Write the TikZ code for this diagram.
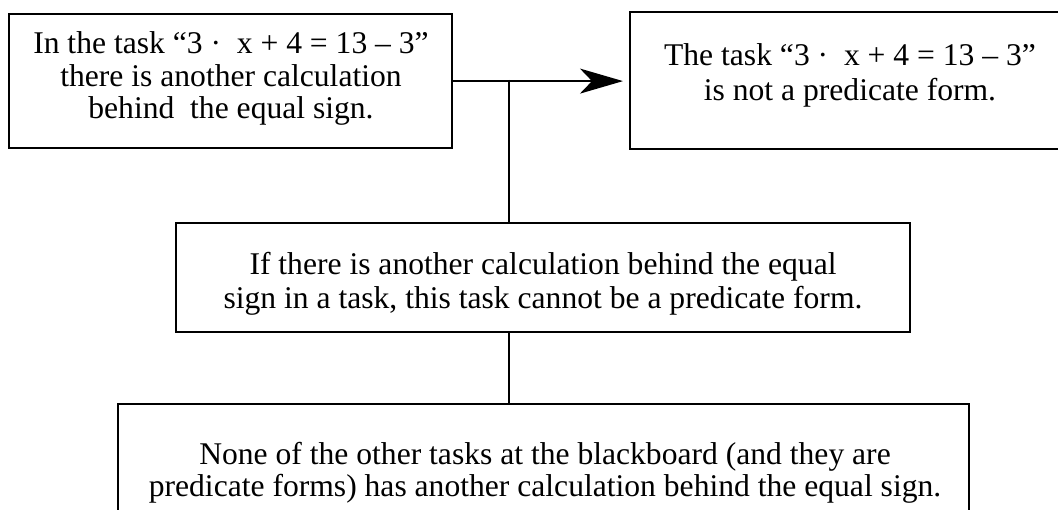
\documentclass[tikz,border=0pt]{standalone}
\usepackage{fontspec}
\setmainfont{Liberation Serif}
\usetikzlibrary{arrows.meta,calc}
\begin{document}
\begin{tikzpicture}[x=1pt,y=-1pt,
  box/.style={draw, line width=2.2pt, inner sep=0pt, anchor=north west},
  txt/.style={align=center, inner sep=0pt, anchor=center},
  conn/.style={line width=2pt}]
\useasboundingbox (0,0) rectangle (1058,510);
\clip (0,0) rectangle (1058,510);
\node[box, minimum width=443pt, minimum height=134pt] (A) at (8,13) {};
\node[box, minimum width=446pt, minimum height=137pt] (R) at (629,11) {};
\node[box, minimum width=734pt, minimum height=109pt] (M) at (175,222) {};
\node[box, minimum width=851pt, minimum height=140pt] (B) at (117,403) {};
\node[txt, font=\fontsize{31.6}{32.5}\selectfont] (tA) at (231,78.5)
  {In the task “3 ·\ \ x + 4 = 13 – 3”\\there is another calculation\\behind\ \ the equal sign.};
\node[txt, font=\fontsize{31.6}{35}\selectfont] (tR) at (850,75.5)
  {The task “3 ·\ \ x + 4 = 13 – 3”\\is not a predicate form.};
\node[txt, font=\fontsize{31.6}{34}\selectfont] (tM) at (543,284)
  {If there is another calculation behind the equal\\sign in a task, this task cannot be a predicate form.};
\node[txt, font=\fontsize{31.6}{32}\selectfont] (tB) at (545,473)
  {None of the other tasks at the blackboard (and they are\\predicate forms) has another calculation behind the equal sign.};
\coordinate (J) at (509,80);
\draw[conn, -{Stealth[length=43pt,width=25pt,inset=12pt]}, shorten >=6pt] (A.east) -- (A.east -| R.west);
\draw[conn] (J) -- (J |- M.north);
\draw[conn] (J |- M.south) -- (J |- B.north);
\end{tikzpicture}
\end{document}
